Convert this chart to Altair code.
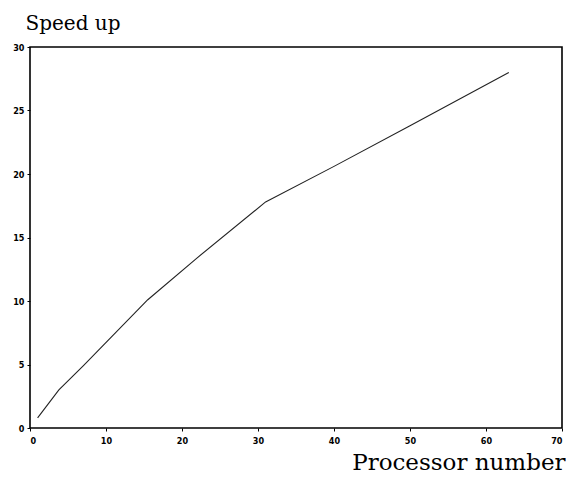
import altair as alt
import pandas as pd

processors = [1, 3.8, 7, 15.5, 22, 31, 40, 50, 63]
speedup = [0.8, 3.0, 4.9, 10.1, 13.4, 17.8, 20.6, 23.8, 28.0]

df = pd.DataFrame({"p": processors, "s": speedup})

W, H = 532, 381

chart = alt.Chart(df).mark_line(color="#222222", strokeWidth=1.1).encode(
    x=alt.X("p:Q", scale=alt.Scale(domain=[0, 70], nice=False),
            axis=alt.Axis(values=[0, 10, 20, 30, 40, 50, 60, 70], title="Processor number",
                          titleAngle=0, titleAlign="right", titleBaseline="alphabetic",
                          titleX=W + 3, titleY=41, titleFont="DejaVu Serif",
                          titleFontSize=23, titleFontWeight="normal", titleColor="black",
                          labelFont="DejaVu Sans Condensed", labelFontWeight="bold",
                          labelFontSize=9, labelColor="black", labelPadding=5,
                          tickSize=3, tickColor="black", domain=False, grid=False)),
    y=alt.Y("s:Q", scale=alt.Scale(domain=[0, 30], nice=False),
            axis=alt.Axis(values=[0, 5, 10, 15, 20, 25, 30], title="Speed up",
                          titleAngle=0, titleAlign="left", titleBaseline="alphabetic",
                          titleX=-5, titleY=-18, titleFont="DejaVu Serif",
                          titleFontSize=20, titleFontWeight="normal", titleColor="black",
                          labelFont="DejaVu Sans Condensed", labelFontWeight="bold",
                          labelFontSize=9, labelColor="black", labelPadding=3,
                          tickSize=3, tickColor="black", domain=False, grid=False)),
).properties(
    width=W, height=H,
    autosize=alt.AutoSizeParams(type="none"),
    padding={"left": 22, "top": 39, "right": 4, "bottom": 465 - 39 - H},
).configure(background="white").configure_view(stroke="black", strokeWidth=1.6)

chart.save("out.html", embed_options={"renderer": "svg", "actions": False})
